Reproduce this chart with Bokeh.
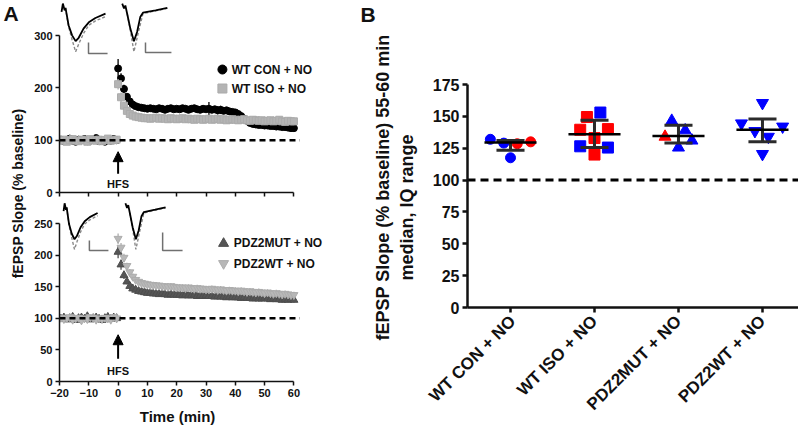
import math
import numpy as np
from bokeh.plotting import figure
from bokeh.layouts import row, column
from bokeh.models import Range1d, FixedTicker, Arrow, NormalHead
from bokeh.embed import file_html
from bokeh.resources import INLINE
from bokeh.core.properties import value

FONT = "Liberation Sans"

# ---------------- Panel A data ----------------
t_base = [-19.5, -18.5, -17.5, -16.5, -15.5, -14.5, -13.5, -12.5, -11.5, -10.5,
          -9.5, -8.5, -7.5, -6.5, -5.5, -4.5, -3.5, -2.5, -1.5, -0.5]
t_post = [0, 1, 2, 3, 4, 5, 6, 7, 8, 9, 10, 11, 12, 13, 14, 15, 16, 17, 18, 19, 20,
          21, 22, 23, 24, 25, 26, 27, 28, 29, 30, 31, 32, 33, 34, 35, 36, 37, 38, 39, 40,
          41, 42, 43, 44, 45, 46, 47, 48, 49, 50, 51, 52, 53, 54, 55, 56, 57, 58, 59, 60]

con_base = [101, 98, 100, 103, 99, 97, 101, 100, 102, 98, 99, 101, 104, 98, 100, 97, 101, 99, 102, 100]
con_base_err = [4, 3, 4, 3, 4, 4, 3, 4, 3, 4, 4, 3, 4, 3, 4, 4, 3, 4, 3, 4]
con_post = [237, 218, 198, 183, 174, 168, 165, 163, 162, 161,
            160, 161, 160, 159, 161, 160, 158, 160, 161, 159,
            160, 159, 161, 160, 158, 160, 161, 159, 158, 160,
            159, 160, 158, 159, 157, 158, 156, 157, 155, 154,
            153, 150, 146, 141, 137, 133, 131, 130, 129, 129,
            128, 128, 127, 127, 126, 126, 125, 125, 124, 123, 123]
con_post_err = [18, 10, 8, 6, 5, 5, 4, 4, 4, 4,
                4, 4, 4, 4, 4, 4, 4, 4, 4, 4,
                4, 4, 4, 4, 4, 4, 4, 4, 4, 4,
                4, 13, 5, 5, 8, 8, 6, 5, 4, 4,
                4, 4, 4, 4, 4, 3, 3, 3, 3, 3,
                3, 3, 3, 3, 3, 3, 3, 3, 3, 3, 3]

iso_base = [99, 101, 97, 100, 102, 99, 98, 101, 100, 97, 102, 100, 99, 101, 98, 100, 103, 99, 100, 101]
iso_base_err = [4, 4, 3, 4, 4, 3, 4, 4, 3, 4, 4, 3, 4, 4, 3, 4, 4, 3, 4, 4]
iso_post = [207, 182, 166, 156, 150, 147, 145, 144, 143, 142,
            142, 141, 142, 143, 141, 142, 141, 140, 142, 141,
            140, 141, 142, 140, 141, 140, 139, 141, 140, 139,
            140, 141, 139, 140, 141, 139, 140, 138, 139, 140,
            139, 138, 139, 140, 138, 137, 139, 138, 137, 138,
            136, 137, 138, 136, 137, 139, 136, 135, 137, 136, 136]
iso_post_err = [10, 9, 7, 6, 5, 5, 5, 5, 5, 5,
                5, 5, 5, 5, 5, 5, 5, 5, 5, 5,
                5, 5, 5, 5, 5, 5, 5, 5, 5, 5,
                5, 5, 5, 5, 5, 5, 5, 5, 5, 5,
                5, 5, 5, 5, 5, 5, 5, 5, 5, 5,
                5, 5, 5, 5, 5, 6, 5, 5, 5, 5, 5]

mut_base = [99, 101, 98, 100, 102, 97, 100, 101, 99, 103, 98, 100, 101, 99, 97, 100, 102, 99, 101, 100]
mut_base_err = [4, 3, 4, 4, 3, 4, 4, 3, 4, 4, 3, 4, 4, 3, 4, 4, 3, 4, 4, 3]
mut_post = [205, 185, 168, 158, 151, 147, 145, 143, 142, 141,
            140, 140, 139, 139, 138, 139, 138, 137, 138, 137,
            137, 137, 136, 137, 136, 136, 137, 135, 136, 135,
            136, 135, 135, 134, 135, 134, 134, 133, 134, 133,
            133, 133, 132, 133, 132, 132, 131, 132, 131, 131,
            132, 131, 130, 131, 130, 130, 129, 130, 129, 130, 129]
mut_post_err = [10, 8, 6, 4, 4, 4, 4, 4, 4, 4,
                4, 4, 4, 4, 4, 4, 4, 4, 4, 4,
                4, 4, 4, 4, 4, 4, 4, 4, 4, 4,
                4, 4, 4, 4, 4, 4, 4, 4, 4, 4,
                4, 4, 4, 4, 4, 4, 4, 4, 4, 4,
                4, 4, 4, 4, 4, 4, 4, 4, 4, 4, 4]

wt_base = [101, 99, 100, 102, 98, 100, 101, 97, 100, 99, 102, 101, 98, 100, 99, 101, 100, 98, 102, 100]
wt_base_err = [4, 4, 3, 4, 4, 3, 4, 4, 3, 4, 4, 3, 4, 4, 3, 4, 4, 3, 4, 4]
wt_post = [226, 212, 196, 183, 173, 166, 161, 158, 156, 155,
           154, 153, 153, 152, 152, 151, 151, 150, 151, 150,
           149, 149, 149, 148, 149, 148, 147, 148, 147, 147,
           146, 146, 147, 146, 145, 146, 145, 144, 145, 144,
           144, 143, 144, 143, 142, 143, 142, 141, 142, 141,
           140, 141, 140, 139, 140, 139, 138, 139, 138, 137, 137]
wt_post_err = [8, 7, 6, 5, 5, 5, 5, 5, 5, 5,
               5, 5, 5, 5, 5, 5, 5, 5, 5, 5,
               5, 5, 5, 5, 5, 5, 5, 5, 5, 5,
               5, 5, 5, 5, 5, 5, 5, 5, 5, 5,
               5, 5, 5, 5, 5, 5, 5, 5, 5, 5,
               5, 5, 5, 5, 5, 5, 5, 5, 5, 5, 5]

time_ticks = [-20, -10, 0, 10, 20, 30, 40, 50, 60]

# inset waveforms (normalised: u across, v down)
waveL_u = [0.0, 0.03, 0.07, 0.09, 0.16, 0.24, 0.32, 0.39, 0.50, 0.62, 0.77, 1.0]
waveL_post = [0.17, 0.0, 0.14, 0.09, 0.45, 0.66, 0.78, 0.71, 0.52, 0.39, 0.30, 0.21]
waveL_pre_u = [0.09, 0.16, 0.24, 0.32, 0.40, 0.50, 0.62, 0.77, 1.0]
waveL_pre = [0.09, 0.48, 0.75, 1.0, 0.82, 0.62, 0.45, 0.36, 0.27]
waveR_u = [0.0, 0.04, 0.07, 0.11, 0.18, 0.26, 0.33, 0.40, 0.46, 0.74, 1.0]
waveR_post = [0.0, 0.10, 0.04, 0.21, 0.52, 0.78, 0.59, 0.28, 0.19, 0.14, 0.09]
waveR_pre_u = [0.11, 0.18, 0.26, 0.36, 0.46, 0.74, 1.0]
waveR_pre = [0.21, 0.56, 1.0, 0.59, 0.21, 0.15, 0.10]

# ---------------- Panel B data ----------------
groups = ["WT CON + NO", "WT ISO + NO", "PDZ2MUT + NO", "PDZ2WT + NO"]
con_vals = [132, 129, 128.5, 130, 117.5]
con_cols = ["blue", "blue", "red", "red", "blue"]
iso_vals = [153, 149.5, 139.5, 140, 133, 126.5, 125.5, 120]
iso_cols = ["blue", "red", "red", "red", "red", "blue", "blue", "red"]
mut_vals = [146.5, 139, 134, 131, 125.5]
mut_cols = ["blue", "blue", "red", "blue", "blue"]
wt_vals = [160.5, 144.5, 142, 138.5, 134, 120.5]
wt_cols = ["blue", "blue", "blue", "blue", "blue", "blue"]
medians = [129.5, 136, 134.5, 139.5]
q1 = [123.5, 125.5, 129, 130]
q3 = [131, 147, 143, 148]
b_ticks = [0, 25, 50, 75, 100, 125, 150, 175]

# horizontal spread of the points in each column
con_jit = [-0.24, -0.08, 0.08, 0.24, 0.0]
iso_jit = [0.07, -0.09, -0.17, 0.16, 0.0, -0.17, 0.16, 0.0]
mut_jit = [-0.08, 0.08, -0.16, 0.16, 0.0]
wt_jit = [0.0, -0.25, 0.24, -0.09, 0.07, 0.0]

INK = "#111111"


def style(p, fs, tick_out=4, lw=1.5):
    for ax in p.axis:
        ax.axis_line_width = lw
        ax.axis_line_color = INK
        ax.major_tick_line_width = lw
        ax.major_tick_line_color = INK
        ax.major_tick_in = 0
        ax.major_tick_out = tick_out
        ax.minor_tick_line_color = None
        ax.major_label_text_font = FONT
        ax.major_label_text_font_style = "bold"
        ax.major_label_text_font_size = fs
        ax.major_label_text_color = INK
        ax.major_label_standoff = 3
    p.grid.visible = False
    p.outline_line_color = None
    p.background_fill_color = None
    p.border_fill_color = None


def txt(p, x, y, text, size, angle=0.0, align="left"):
    p.text(x=[x], y=[y], text=[text], angle=angle, text_align=align, text_baseline="middle",
           text_font=value(FONT), text_font_style="bold", text_font_size=size, text_color=INK)


def series(p, tb, yb, eb, tp, yp, ep, marker, size, fill, line):
    t = np.array(tb + tp, dtype=float)
    y = np.array(yb + yp, dtype=float)
    e = np.array(eb + ep, dtype=float)
    p.segment(x0=t, y0=y - e, x1=t, y1=y + e, line_color=line, line_width=1.3)
    p.scatter(x=t, y=y, marker=marker, size=size, fill_color=fill, line_color=line, line_width=1)


def inset(p, u, v, t0, tw, vtop, vh, **kw):
    p.line(x=t0 + np.array(u) * tw, y=vtop - np.array(v) * vh, **kw)


def strip(w, h, xr, yr, left=0, right=0):
    s = figure(width=w, height=h, x_range=xr, y_range=yr, x_axis_type=None, y_axis_type=None,
               output_backend="svg", toolbar_location=None,
               min_border_left=left, min_border_right=right, min_border_top=0, min_border_bottom=0)
    s.grid.visible = False
    s.outline_line_color = None
    s.background_fill_color = None
    s.border_fill_color = None
    return s


XEND = 72.49
WA = 305

# ---------------- Panel A top ----------------
pa = figure(width=WA, height=199, x_range=Range1d(-20, XEND), y_range=Range1d(0, 366.9),
            output_backend="svg", toolbar_location=None,
            min_border_left=29, min_border_right=5, min_border_top=0, min_border_bottom=7)
style(pa, "11px")
pa.xaxis.ticker = FixedTicker(ticks=time_ticks)
pa.xaxis.bounds = (-20, 60)
pa.xaxis.major_label_overrides = {t: "" for t in time_ticks}
pa.xaxis.major_label_text_font_size = "1px"
pa.xaxis.major_label_standoff = 0
pa.yaxis.ticker = FixedTicker(ticks=[0, 100, 200, 300])
pa.yaxis.bounds = (0, 300)

series(pa, t_base, con_base, con_base_err, t_post, con_post, con_post_err, "circle", 7, "#000000", "#000000")
series(pa, t_base, iso_base, iso_base_err, t_post, iso_post, iso_post_err, "square", 7, "#b4b4b4", "#ababab")
pa.line(x=[-20, 62], y=[100, 100], line_color="black", line_width=2.5, line_dash="6 4")
pa.add_layout(Arrow(end=NormalHead(size=10, fill_color="black", line_color="black"),
                    x_start=0, y_start=36, x_end=0, y_end=78, line_width=2, line_color="black"))
txt(pa, 0, 17, "HFS", "11px", align="center")
pa.scatter(x=[35.6], y=[235], marker="circle", size=9, fill_color="black", line_color="black")
pa.scatter(x=[35.6], y=[198.7], marker="square", size=9, fill_color="#b4b4b4", line_color="#ababab")
txt(pa, 38.8, 235, "WT CON + NO", "12px")
txt(pa, 38.8, 198.7, "WT ISO + NO", "12px")
inset(pa, waveL_pre_u, waveL_pre, -19.3, 15.0, 361, 92, line_color="#8a8a8a", line_width=1.4, line_dash="3 2")
inset(pa, waveL_u, waveL_post, -19.3, 15.0, 361, 92, line_color="black", line_width=1.8)
inset(pa, waveR_pre_u, waveR_pre, 1.4, 15.4, 361, 92, line_color="#8a8a8a", line_width=1.4, line_dash="3 2")
inset(pa, waveR_u, waveR_post, 1.4, 15.4, 361, 92, line_color="black", line_width=1.8)
pa.line(x=[-10.1, -10.1, -3.6], y=[286.6, 265.6, 265.6], line_color="#707070", line_width=1.5)
pa.line(x=[9.35, 9.35, 18.2], y=[286.6, 267.5, 267.5], line_color="#707070", line_width=1.5)

# ---------------- Panel A bottom ----------------
pb = figure(width=WA, height=202, x_range=Range1d(-20, XEND), y_range=Range1d(0, 286.4),
            output_backend="svg", toolbar_location=None,
            min_border_left=29, min_border_right=5, min_border_top=1, min_border_bottom=20)
style(pb, "11px")
pb.xaxis.ticker = FixedTicker(ticks=time_ticks)
pb.xaxis.bounds = (-20, 60)
pb.yaxis.ticker = FixedTicker(ticks=[0, 50, 100, 150, 200, 250])
pb.yaxis.bounds = (0, 250)

series(pb, t_base, mut_base, mut_base_err, t_post, mut_post, mut_post_err, "triangle", 8, "#555555", "#4d4d4d")
series(pb, t_base, wt_base, wt_base_err, t_post, wt_post, wt_post_err, "inverted_triangle", 8, "#b8b8b8", "#adadad")
pb.line(x=[-20, 62], y=[100, 100], line_color="black", line_width=2.5, line_dash="6 4")
pb.add_layout(Arrow(end=NormalHead(size=10, fill_color="black", line_color="black"),
                    x_start=0, y_start=36, x_end=0, y_end=74, line_width=2, line_color="black"))
txt(pb, 0, 17, "HFS", "11px", align="center")
pb.scatter(x=[36.0], y=[218.4], marker="triangle", size=10, fill_color="#555555", line_color="#4d4d4d")
pb.scatter(x=[36.0], y=[186.7], marker="inverted_triangle", size=10, fill_color="#b8b8b8", line_color="#adadad")
txt(pb, 39.5, 218.4, "PDZ2MUT + NO", "12px")
txt(pb, 39.5, 186.7, "PDZ2WT + NO", "12px")
inset(pb, waveL_pre_u, waveL_pre, -18.6, 11.6, 282, 73, line_color="#8a8a8a", line_width=1.4, line_dash="3 2")
inset(pb, waveL_u, waveL_post, -18.6, 11.6, 282, 73, line_color="black", line_width=1.8)
inset(pb, waveR_pre_u, waveR_pre, 2.5, 13.7, 282, 73, line_color="#8a8a8a", line_width=1.4, line_dash="3 2")
inset(pb, waveR_u, waveR_post, 2.5, 13.7, 282, 73, line_color="black", line_width=1.8)
pb.line(x=[-9.8, -9.8, -3.3], y=[223, 207.3, 207.3], line_color="#707070", line_width=1.5)
pb.line(x=[15.2, 15.2, 22], y=[235.8, 207.3, 207.3], line_color="#707070", line_width=1.5)

# x-axis title strip under panel A (shares the time scale)
pt = strip(WA, 24, Range1d(-20, XEND), Range1d(0, 24), left=29, right=5)
txt(pt, 20.3, 9, "Time (min)", "15px", align="center")

# left strip: panel letter A + shared y label
la = strip(30, 425, Range1d(0, 30), Range1d(0, 425))
txt(la, 3, 412, "A", "21px")
txt(la, 17, 232, "fEPSP Slope (% baseline)", "14px", angle=math.pi / 2, align="center")

# middle strip: panel letter B + y label of panel B
lb = strip(90, 425, Range1d(0, 90), Range1d(0, 425))
txt(lb, 25, 411, "B", "21px")
txt(lb, 47, 238, "fEPSP Slope (% baseline) 55-60 min", "18px", angle=math.pi / 2, align="center")
txt(lb, 71, 218, "median, IQ range", "18px", angle=math.pi / 2, align="center")

# ---------------- Panel B ----------------
pB = figure(width=373, height=425, x_range=Range1d(-0.512, 3.429), y_range=Range1d(0, 175),
            output_backend="svg", toolbar_location=None,
            min_border_left=42, min_border_right=0, min_border_top=84, min_border_bottom=118)
style(pB, "16px", tick_out=5, lw=2.5)
pB.yaxis.ticker = FixedTicker(ticks=b_ticks)
pB.yaxis.bounds = (0, 175)
pB.xaxis.ticker = FixedTicker(ticks=[0, 1, 2, 3])
pB.xaxis.major_label_overrides = {i: g for i, g in enumerate(groups)}
pB.xaxis.major_label_orientation = math.pi / 4
pB.xaxis.major_label_text_font_size = "17px"
pB.xaxis.major_label_standoff = 6

pB.line(x=[-0.512, 3.429], y=[100, 100], line_color="black", line_width=3, line_dash="8 5")

for i, (vals, cols, jit, mk, sz) in enumerate([
        (con_vals, con_cols, con_jit, "circle", 10),
        (iso_vals, iso_cols, iso_jit, "square", 11),
        (mut_vals, mut_cols, mut_jit, "triangle", 12),
        (wt_vals, wt_cols, wt_jit, "inverted_triangle", 12)]):
    xs = i + np.array(jit)
    pB.scatter(x=xs, y=vals, marker=mk, size=sz, fill_color=cols, line_color=cols)

idx = np.arange(len(groups))
pB.segment(x0=idx, y0=q1, x1=idx, y1=q3, line_color="#2b2b2b", line_width=3)
pB.segment(x0=idx - 0.167, y0=q1, x1=idx + 0.167, y1=q1, line_color="#2b2b2b", line_width=3)
pB.segment(x0=idx - 0.167, y0=q3, x1=idx + 0.167, y1=q3, line_color="#2b2b2b", line_width=3)
pB.segment(x0=idx - 0.31, y0=medians, x1=idx + 0.31, y1=medians, line_color="#000000", line_width=2.5)

layout = row(column(la), column(pa, pb, row(pt)), column(lb), column(pB))
open("out.html", "w").write(file_html(layout, INLINE))
